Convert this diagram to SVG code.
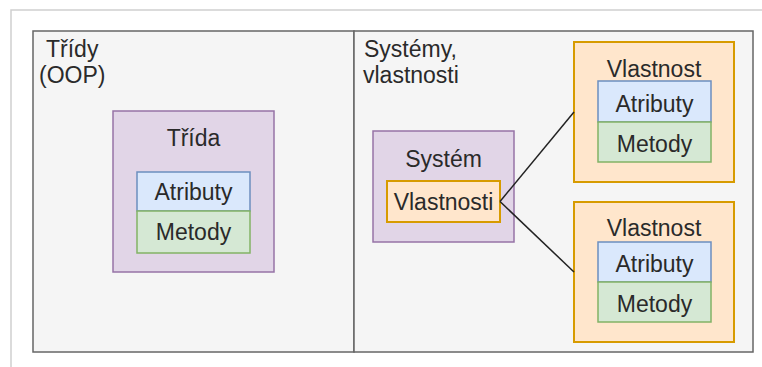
<svg xmlns="http://www.w3.org/2000/svg" width="762" height="367" viewBox="0 0 762 367">
<style>
text{font-family:"Liberation Sans",Arial,sans-serif;font-size:23px;fill:#2a2a2a}
.c{text-anchor:middle}
.panel{fill:#f5f5f5;stroke:#666;stroke-width:1.5}
.purple{fill:#e1d5e7;stroke:#9673a6;stroke-width:1.5}
.orange{fill:#ffe6cc;stroke:#d79b00;stroke-width:2}
.blue{fill:#dae8fc;stroke:#6c8ebf;stroke-width:1.5}
.green{fill:#d5e8d4;stroke:#82b366;stroke-width:1.5}
.edge{fill:none;stroke:#222;stroke-width:1.5}
</style>
<rect width="762" height="367" fill="#fff"/>
<path d="M11 367 V10 H762" fill="none" stroke="#d0d0d0" stroke-width="1.5"/>
<g id="panel-left">
<rect class="panel" x="33" y="31" width="321" height="321"/>
<text x="46" y="57">Třídy</text>
<text x="39" y="83">(OOP)</text>
</g>
<g id="panel-right">
<rect class="panel" x="354" y="31" width="399" height="321"/>
<text x="364" y="57">Systémy,</text>
<text x="363" y="83">vlastnosti</text>
</g>
<g id="trida">
<rect class="purple" x="113" y="111" width="161" height="161"/>
<text class="c" x="193.5" y="146">Třída</text>
<rect class="blue" x="137" y="172" width="113" height="39"/>
<text class="c" x="193.5" y="200">Atributy</text>
<rect class="green" x="137" y="211" width="113" height="42"/>
<text class="c" x="193.5" y="240">Metody</text>
</g>
<g id="system">
<rect class="purple" x="373" y="131" width="141" height="111"/>
<text class="c" x="443.5" y="167">Systém</text>
</g>
<g id="vlastnosti">
<rect class="orange" x="387" y="181" width="113" height="41"/>
<text class="c" x="443.5" y="210">Vlastnosti</text>
</g>
<g id="vlastnost1">
<rect class="orange" x="574" y="42" width="160" height="140"/>
<text class="c" x="654" y="77">Vlastnost</text>
<rect class="blue" x="598" y="81" width="113" height="41"/>
<text class="c" x="654.5" y="112">Atributy</text>
<rect class="green" x="598" y="122" width="113" height="40"/>
<text class="c" x="654.5" y="152">Metody</text>
</g>
<g id="vlastnost2">
<rect class="orange" x="574" y="202" width="160" height="140"/>
<text class="c" x="654" y="236">Vlastnost</text>
<rect class="blue" x="598" y="242" width="113" height="40"/>
<text class="c" x="654.5" y="272">Atributy</text>
<rect class="green" x="598" y="282" width="113" height="40"/>
<text class="c" x="654.5" y="312">Metody</text>
</g>
<g id="connectors">
<path class="edge" d="M500 201.5 L574 112"/>
<path class="edge" d="M500 201.5 L574 272"/>
</g>
</svg>
